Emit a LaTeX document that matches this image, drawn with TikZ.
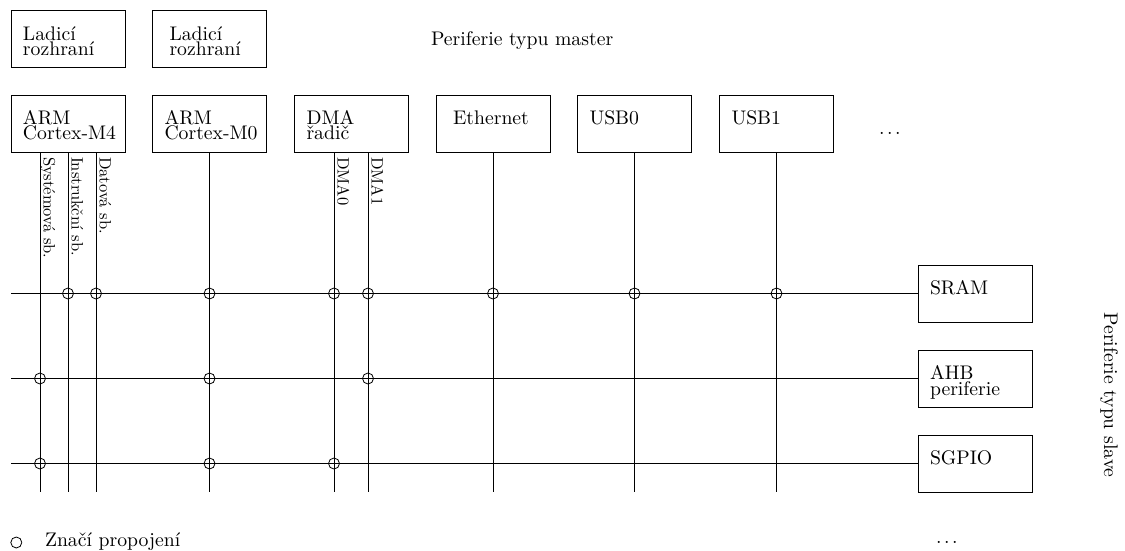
\documentclass[tikz,border=0pt]{standalone}
\usepackage{fontspec}
\setmainfont{lmroman10-regular.otf}
\newcommand\dgmain{\fontsize{19.7}{15.5}\selectfont}
\newcommand\dglabel{\fontsize{16.5}{16.5}\selectfont}
\newcommand\dgdots{.\kern2.6pt.\kern2.6pt.}
\tikzset{
  box/.style={draw, line width=0.8pt, inner xsep=12pt, inner ysep=0pt, outer sep=0pt,
    text width=90pt, align=left, text height=29.5pt, text depth=27.5pt, font=\dgmain},
  bus/.style={line width=0.8pt},
  conn/.style={draw, circle, line width=0.8pt, inner sep=0pt, minimum size=11pt, outer sep=0pt},
  lab/.style={rotate=-90, anchor=south west, font=\dglabel, inner xsep=5pt, inner ysep=0.5pt,
    text depth=3pt, outer sep=0pt},
  plain/.style={font=\dgmain, inner sep=0pt, outer sep=0pt},
}
\begin{document}
\begin{tikzpicture}[x=1pt, y=-1pt]
\useasboundingbox (0,0) rectangle (1125,551);

% debug interfaces
\node[box] (lad1) at (68,39.2) {Ladicí\\rozhraní};
\node[box] (lad2) at (209.5,39.2) {\hspace*{5pt}Ladicí\\\hspace*{5pt}rozhraní};
\node[plain, anchor=base west] (mastert) at (431,45.7) {Periferie typu master};

% masters
\node[box] (m4) at (68,123.5) {ARM\\\mbox{Cortex-M4}};
\node[box] (m0) at (209.5,123.5) {ARM\\\mbox{Cortex-M0}};
\node[box] (dma) at (351.5,123.5) {DMA\\řadič};
\node[box] (eth) at (493,123.5) {\hspace*{5pt}Ethernet};
\node[box] (usb0) at (634.5,123.5) {USB0};
\node[box] (usb1) at (776.5,123.5) {USB1};
\node[plain, anchor=base west] (mdots) at (879,134.3) {\dgdots};

% slaves
\node[box] (sram) at (975,293.5) {SRAM};
\node[box] (ahb) at (975,378.5) {AHB\\periferie};
\node[box] (sgpio) at (975,463.5) {SGPIO};
\node[plain, rotate=-90, anchor=base] (slavet) at (1104,395) {Periferie typu slave};
\node[plain, anchor=base west] (sdots) at (936,543.3) {\dgdots};

% vertical bus start points
\coordinate (vsys) at ([xshift=-28pt]m4.south);
\coordinate (vins) at (m4.south);
\coordinate (vdat) at ([xshift=28pt]m4.south);
\coordinate (vm0) at (m0.south);
\coordinate (vd0) at ([xshift=-17.5pt]dma.south);
\coordinate (vd1) at ([xshift=16.5pt]dma.south);
\coordinate (veth) at (eth.south);
\coordinate (vu0) at (usb0.south);
\coordinate (vu1) at (usb1.south);

\foreach \v in {vsys,vins,vdat,vm0,vd0,vd1,veth,vu0,vu1}
  \draw[bus] (\v) -- (\v |- sgpio.south);

% horizontal buses
\coordinate (h1) at (11,293.5);
\coordinate (h2) at (11,378.5);
\coordinate (h3) at (11,463.5);
\draw[bus] (h1) -- (sram.west);
\draw[bus] (h2) -- (ahb.west);
\draw[bus] (h3) -- (sgpio.west);

% labels
\node[lab] (lsys) at (vsys) {Systémová sb.};
\node[lab] (lins) at (vins) {Instrukční sb.};
\node[lab] (ldat) at (vdat) {Datová sb.};
\node[lab] (ld0) at (vd0) {DMA0};
\node[lab] (ld1) at (vd1) {DMA1};

% connections
\node[conn] (c1) at (vins |- sram.west) {};
\node[conn] (c2) at (vdat |- sram.west) {};
\node[conn] (c3) at (vm0 |- sram.west) {};
\node[conn] (c4) at (vd0 |- sram.west) {};
\node[conn] (c5) at (vd1 |- sram.west) {};
\node[conn] (c6) at (veth |- sram.west) {};
\node[conn] (c7) at (vu0 |- sram.west) {};
\node[conn] (c8) at (vu1 |- sram.west) {};
\node[conn] (c9) at (vsys |- ahb.west) {};
\node[conn] (c10) at (vm0 |- ahb.west) {};
\node[conn] (c11) at (vd1 |- ahb.west) {};
\node[conn] (c12) at (vsys |- sgpio.west) {};
\node[conn] (c13) at (vm0 |- sgpio.west) {};
\node[conn] (c14) at (vd0 |- sgpio.west) {};

% legend
\node[conn] (leg) at (16.3,542.5) {};
\node[plain, anchor=base west] (legt) at (45,546.7) {Značí propojení};
\end{tikzpicture}
\end{document}
